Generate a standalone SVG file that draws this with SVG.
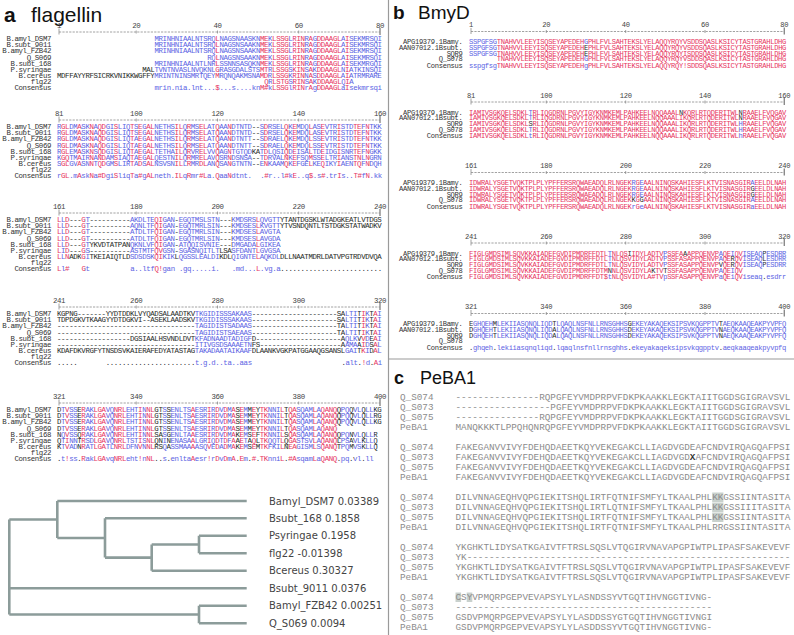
<svg xmlns="http://www.w3.org/2000/svg" width="794" height="635" viewBox="0 0 794 635">
<style>
.sa{font-family:"Liberation Mono","DejaVu Sans Mono",monospace;font-size:7.4px;letter-spacing:-0.38px}
.sb{font-family:"Liberation Mono","DejaVu Sans Mono",monospace;font-size:7.1px;letter-spacing:-0.294px}
.sc{font-family:"Liberation Mono","DejaVu Sans Mono",monospace;font-size:9.3px;fill:#8c8c8c}
.lab{fill:#333;text-anchor:end}
.num{fill:#444;text-anchor:middle}
.k{fill:#2a2a2a}
.cx{fill:#333;font-weight:bold}
.ttl{font-family:"Liberation Sans",Arial,sans-serif;fill:#111}
.rl{stroke:#8a8a8a;stroke-width:0.8;fill:none}
.rd{stroke-dasharray:2.2 1.2}
.tk{stroke:#8a8a8a;stroke-width:1.4}
.tree{stroke:#8c9c9a;stroke-width:2.6;fill:none}
.tl{font-family:"DejaVu Sans",sans-serif;font-size:10px;fill:#444}
.hl{fill:#c9d1cd}
.frame{stroke:#9a9a9a;stroke-width:1.2}
.R{stop-color:#e4335e}.B{stop-color:#5b5ee0}.K{stop-color:#2a2a2a}
</style>
<defs>
<linearGradient id="ga1" gradientUnits="userSpaceOnUse" x1="57" y1="0" x2="382" y2="0">
<stop offset="0" class="K"/><stop offset=".3" class="K"/><stop offset=".3" class="B"/><stop offset=".4875" class="B"/><stop offset=".4875" class="R"/><stop offset=".5" class="R"/><stop offset=".5" class="B"/><stop offset=".625" class="B"/><stop offset=".625" class="R"/><stop offset=".65" class="R"/><stop offset=".65" class="B"/><stop offset=".6625" class="B"/><stop offset=".6625" class="R"/><stop offset=".7125" class="R"/><stop offset=".7125" class="B"/><stop offset=".725" class="B"/><stop offset=".725" class="R"/><stop offset=".7625" class="R"/><stop offset=".7625" class="B"/><stop offset=".775" class="B"/><stop offset=".775" class="R"/><stop offset=".7875" class="R"/><stop offset=".7875" class="B"/><stop offset=".8" class="B"/><stop offset=".8" class="R"/><stop offset=".875" class="R"/><stop offset=".875" class="B"/><stop offset=".8875" class="B"/><stop offset=".8875" class="R"/><stop offset=".9" class="R"/><stop offset=".9" class="B"/><stop offset="1" class="B"/>
</linearGradient>
<linearGradient id="ga2" gradientUnits="userSpaceOnUse" x1="57" y1="0" x2="382" y2="0">
<stop offset="0" class="B"/><stop offset=".0125" class="B"/><stop offset=".0125" class="R"/><stop offset=".0375" class="R"/><stop offset=".0375" class="B"/><stop offset=".0625" class="B"/><stop offset=".0625" class="R"/><stop offset=".075" class="R"/><stop offset=".075" class="B"/><stop offset=".1" class="B"/><stop offset=".1" class="R"/><stop offset=".1125" class="R"/><stop offset=".1125" class="B"/><stop offset=".125" class="B"/><stop offset=".125" class="R"/><stop offset=".15" class="R"/><stop offset=".15" class="B"/><stop offset=".175" class="B"/><stop offset=".175" class="R"/><stop offset=".1875" class="R"/><stop offset=".1875" class="B"/><stop offset=".225" class="B"/><stop offset=".225" class="R"/><stop offset=".2375" class="R"/><stop offset=".2375" class="B"/><stop offset=".25" class="B"/><stop offset=".25" class="R"/><stop offset=".2625" class="R"/><stop offset=".2625" class="B"/><stop offset=".275" class="B"/><stop offset=".275" class="R"/><stop offset=".3" class="R"/><stop offset=".3" class="B"/><stop offset=".3625" class="B"/><stop offset=".3625" class="R"/><stop offset=".3875" class="R"/><stop offset=".3875" class="B"/><stop offset=".4" class="B"/><stop offset=".4" class="R"/><stop offset=".4125" class="R"/><stop offset=".4125" class="B"/><stop offset=".4375" class="B"/><stop offset=".4375" class="R"/><stop offset=".4625" class="R"/><stop offset=".4625" class="B"/><stop offset=".4875" class="B"/><stop offset=".4875" class="R"/><stop offset=".5" class="R"/><stop offset=".5" class="B"/><stop offset=".525" class="B"/><stop offset=".525" class="R"/><stop offset=".5375" class="R"/><stop offset=".5375" class="B"/><stop offset=".6" class="B"/><stop offset=".6" class="K"/><stop offset=".625" class="K"/><stop offset=".625" class="B"/><stop offset=".6375" class="B"/><stop offset=".6375" class="R"/><stop offset=".65" class="R"/><stop offset=".65" class="B"/><stop offset=".7" class="B"/><stop offset=".7" class="R"/><stop offset=".7125" class="R"/><stop offset=".7125" class="B"/><stop offset=".725" class="B"/><stop offset=".725" class="R"/><stop offset=".7375" class="R"/><stop offset=".7375" class="B"/><stop offset=".775" class="B"/><stop offset=".775" class="R"/><stop offset=".7875" class="R"/><stop offset=".7875" class="B"/><stop offset=".8125" class="B"/><stop offset=".8125" class="R"/><stop offset=".825" class="R"/><stop offset=".825" class="B"/><stop offset=".8625" class="B"/><stop offset=".8625" class="R"/><stop offset=".875" class="R"/><stop offset=".875" class="B"/><stop offset=".9125" class="B"/><stop offset=".9125" class="R"/><stop offset=".9375" class="R"/><stop offset=".9375" class="B"/><stop offset=".95" class="B"/><stop offset=".95" class="R"/><stop offset=".9625" class="R"/><stop offset=".9625" class="B"/><stop offset="1" class="B"/>
</linearGradient>
<linearGradient id="ga3" gradientUnits="userSpaceOnUse" x1="57" y1="0" x2="382" y2="0">
<stop offset="0" class="R"/><stop offset=".0125" class="R"/><stop offset=".0125" class="B"/><stop offset=".025" class="B"/><stop offset=".025" class="R"/><stop offset=".0375" class="R"/><stop offset=".0375" class="K"/><stop offset=".075" class="K"/><stop offset=".075" class="R"/><stop offset=".0875" class="R"/><stop offset=".0875" class="B"/><stop offset=".1" class="B"/><stop offset=".1" class="K"/><stop offset=".225" class="K"/><stop offset=".225" class="B"/><stop offset=".3" class="B"/><stop offset=".3" class="R"/><stop offset=".325" class="R"/><stop offset=".325" class="B"/><stop offset=".3625" class="B"/><stop offset=".3625" class="K"/><stop offset=".375" class="K"/><stop offset=".375" class="B"/><stop offset=".5" class="B"/><stop offset=".5" class="K"/><stop offset=".5375" class="K"/><stop offset=".5375" class="B"/><stop offset=".6125" class="B"/><stop offset=".6125" class="R"/><stop offset=".625" class="R"/><stop offset=".625" class="B"/><stop offset=".6875" class="B"/><stop offset=".6875" class="K"/><stop offset="1" class="K"/>
</linearGradient>
<linearGradient id="ga4" gradientUnits="userSpaceOnUse" x1="57" y1="0" x2="382" y2="0">
<stop offset="0" class="K"/><stop offset=".425" class="K"/><stop offset=".425" class="B"/><stop offset=".6" class="B"/><stop offset=".6" class="K"/><stop offset=".8875" class="K"/><stop offset=".8875" class="B"/><stop offset=".925" class="B"/><stop offset=".925" class="K"/><stop offset=".9375" class="K"/><stop offset=".9375" class="R"/><stop offset=".95" class="R"/><stop offset=".95" class="B"/><stop offset=".9625" class="B"/><stop offset=".9625" class="K"/><stop offset=".975" class="K"/><stop offset=".975" class="R"/><stop offset=".9875" class="R"/><stop offset=".9875" class="B"/><stop offset="1" class="B"/>
</linearGradient>
<linearGradient id="ga5" gradientUnits="userSpaceOnUse" x1="57" y1="0" x2="382" y2="0">
<stop offset="0" class="K"/><stop offset=".0125" class="K"/><stop offset=".0125" class="B"/><stop offset=".025" class="B"/><stop offset=".025" class="R"/><stop offset=".0375" class="R"/><stop offset=".0375" class="B"/><stop offset=".0625" class="B"/><stop offset=".0625" class="K"/><stop offset=".075" class="K"/><stop offset=".075" class="R"/><stop offset=".0875" class="R"/><stop offset=".0875" class="B"/><stop offset=".1125" class="B"/><stop offset=".1125" class="R"/><stop offset=".15" class="R"/><stop offset=".15" class="B"/><stop offset=".175" class="B"/><stop offset=".175" class="R"/><stop offset=".2125" class="R"/><stop offset=".2125" class="B"/><stop offset=".25" class="B"/><stop offset=".25" class="R"/><stop offset=".2625" class="R"/><stop offset=".2625" class="B"/><stop offset=".275" class="B"/><stop offset=".275" class="R"/><stop offset=".3" class="R"/><stop offset=".3" class="K"/><stop offset=".325" class="K"/><stop offset=".325" class="B"/><stop offset=".3375" class="B"/><stop offset=".3375" class="K"/><stop offset=".35" class="K"/><stop offset=".35" class="B"/><stop offset=".4125" class="B"/><stop offset=".4125" class="R"/><stop offset=".425" class="R"/><stop offset=".425" class="B"/><stop offset=".4625" class="B"/><stop offset=".4625" class="R"/><stop offset=".475" class="R"/><stop offset=".475" class="B"/><stop offset=".4875" class="B"/><stop offset=".4875" class="R"/><stop offset=".5" class="R"/><stop offset=".5" class="B"/><stop offset=".5125" class="B"/><stop offset=".5125" class="R"/><stop offset=".525" class="R"/><stop offset=".525" class="B"/><stop offset=".5375" class="B"/><stop offset=".5375" class="R"/><stop offset=".55" class="R"/><stop offset=".55" class="K"/><stop offset=".5625" class="K"/><stop offset=".5625" class="R"/><stop offset=".575" class="R"/><stop offset=".575" class="B"/><stop offset=".5875" class="B"/><stop offset=".5875" class="K"/><stop offset=".6" class="K"/><stop offset=".6" class="R"/><stop offset=".6125" class="R"/><stop offset=".6125" class="K"/><stop offset=".625" class="K"/><stop offset=".625" class="R"/><stop offset=".65" class="R"/><stop offset=".65" class="B"/><stop offset=".6875" class="B"/><stop offset=".6875" class="R"/><stop offset=".7" class="R"/><stop offset=".7" class="K"/><stop offset=".7125" class="K"/><stop offset=".7125" class="R"/><stop offset=".7375" class="R"/><stop offset=".7375" class="B"/><stop offset=".7875" class="B"/><stop offset=".7875" class="R"/><stop offset=".8" class="R"/><stop offset=".8" class="B"/><stop offset=".8125" class="B"/><stop offset=".8125" class="R"/><stop offset=".8625" class="R"/><stop offset=".8625" class="K"/><stop offset=".875" class="K"/><stop offset=".875" class="B"/><stop offset=".9" class="B"/><stop offset=".9" class="K"/><stop offset=".9125" class="K"/><stop offset=".9125" class="B"/><stop offset=".9375" class="B"/><stop offset=".9375" class="K"/><stop offset=".95" class="K"/><stop offset=".95" class="B"/><stop offset=".975" class="B"/><stop offset=".975" class="K"/><stop offset="1" class="K"/>
</linearGradient>
<linearGradient id="gb1" gradientUnits="userSpaceOnUse" x1="469" y1="0" x2="786.3" y2="0">
<stop offset="0" class="B"/><stop offset=".0875" class="B"/><stop offset=".0875" class="R"/><stop offset=".3625" class="R"/><stop offset=".3625" class="B"/><stop offset=".375" class="B"/><stop offset=".375" class="R"/><stop offset="1" class="R"/>
</linearGradient>
<linearGradient id="gb2" gradientUnits="userSpaceOnUse" x1="469" y1="0" x2="786.3" y2="0">
<stop offset="0" class="R"/><stop offset=".1875" class="R"/><stop offset=".1875" class="B"/><stop offset=".2" class="B"/><stop offset=".2" class="R"/><stop offset=".85" class="R"/><stop offset=".85" class="B"/><stop offset=".8625" class="B"/><stop offset=".8625" class="R"/><stop offset="1" class="R"/>
</linearGradient>
<linearGradient id="gb3" gradientUnits="userSpaceOnUse" x1="469" y1="0" x2="786.3" y2="0">
<stop offset="0" class="R"/><stop offset=".5125" class="R"/><stop offset=".5125" class="B"/><stop offset=".525" class="B"/><stop offset=".525" class="R"/><stop offset=".5375" class="R"/><stop offset=".5375" class="B"/><stop offset=".55" class="B"/><stop offset=".55" class="R"/><stop offset=".8875" class="R"/><stop offset=".8875" class="B"/><stop offset=".9" class="B"/><stop offset=".9" class="R"/><stop offset="1" class="R"/>
</linearGradient>
<linearGradient id="gb4" gradientUnits="userSpaceOnUse" x1="469" y1="0" x2="786.3" y2="0">
<stop offset="0" class="R"/><stop offset=".4375" class="R"/><stop offset=".4375" class="B"/><stop offset=".45" class="B"/><stop offset=".45" class="R"/><stop offset=".6125" class="R"/><stop offset=".6125" class="B"/><stop offset=".625" class="B"/><stop offset=".625" class="R"/><stop offset=".7875" class="R"/><stop offset=".7875" class="B"/><stop offset=".8" class="B"/><stop offset=".8" class="R"/><stop offset=".825" class="R"/><stop offset=".825" class="B"/><stop offset=".8375" class="B"/><stop offset=".8375" class="R"/><stop offset=".8625" class="R"/><stop offset=".8625" class="B"/><stop offset=".925" class="B"/><stop offset=".925" class="K"/><stop offset=".9375" class="K"/><stop offset=".9375" class="B"/><stop offset="1" class="B"/>
</linearGradient>
<linearGradient id="gb5" gradientUnits="userSpaceOnUse" x1="469" y1="0" x2="786.3" y2="0">
<stop offset="0" class="K"/><stop offset=".0125" class="K"/><stop offset=".0125" class="B"/><stop offset=".075" class="B"/><stop offset=".075" class="K"/><stop offset=".0875" class="K"/><stop offset=".0875" class="B"/><stop offset=".2625" class="B"/><stop offset=".2625" class="K"/><stop offset=".275" class="K"/><stop offset=".275" class="B"/><stop offset=".5" class="B"/><stop offset=".5" class="K"/><stop offset=".5125" class="K"/><stop offset=".5125" class="B"/><stop offset=".7875" class="B"/><stop offset=".7875" class="K"/><stop offset=".8" class="K"/><stop offset=".8" class="B"/><stop offset="1" class="B"/>
</linearGradient>
</defs>
<rect width="794" height="635" fill="#fff"/>
<g id="frame">
<line class="frame" x1="388.5" y1="0" x2="388.5" y2="635"/>
<line class="frame" x1="388.5" y1="359" x2="794" y2="359"/>
</g>
<g id="titles">
<text class="ttl" x="4" y="22" font-size="21" font-weight="bold">a</text>
<text class="ttl" x="31" y="22" font-size="21">flagellin</text>
<text class="ttl" x="393" y="19" font-size="19" font-weight="bold">b</text>
<text class="ttl" x="418" y="19" font-size="19">BmyD</text>
<text class="ttl" x="394" y="384" font-size="18" font-weight="bold">c</text>
<text class="ttl" x="420" y="384" font-size="18">PeBA1</text>
</g>
<g id="rulers-a">
<g class="sa num"><text x="59" y="27.5">1</text><text x="136.2" y="27.5">20</text><text x="217.5" y="27.5">40</text><text x="298.7" y="27.5">60</text><text x="380" y="27.5">80</text>
<text x="59" y="115.5">81</text><text x="136.2" y="115.5">100</text><text x="217.5" y="115.5">120</text><text x="298.7" y="115.5">140</text><text x="380" y="115.5">160</text>
<text x="59" y="208.5">161</text><text x="136.2" y="208.5">180</text><text x="217.5" y="208.5">200</text><text x="298.7" y="208.5">220</text><text x="380" y="208.5">240</text>
<text x="59" y="302.5">241</text><text x="136.2" y="302.5">260</text><text x="217.5" y="302.5">280</text><text x="298.7" y="302.5">300</text><text x="380" y="302.5">320</text>
<text x="59" y="398.5">321</text><text x="136.2" y="398.5">340</text><text x="217.5" y="398.5">360</text><text x="298.7" y="398.5">380</text><text x="380" y="398.5">400</text></g>
<path class="rl rd" d="M59,32H380M59,120H380M59,213H380M59,307H380M59,403H380"/>
<path class="rl" d="M59,28.5V34.5M136.2,30.5V33.5M217.5,30.5V33.5M298.7,30.5V33.5M59,116.5V122.5M136.2,118.5V121.5M217.5,118.5V121.5M298.7,118.5V121.5M59,209.5V215.5M136.2,211.5V214.5M217.5,211.5V214.5M298.7,211.5V214.5M59,303.5V309.5M136.2,305.5V308.5M217.5,305.5V308.5M298.7,305.5V308.5M59,399.5V405.5M136.2,401.5V404.5M217.5,401.5V404.5M298.7,401.5V404.5"/>
<path class="tk" d="M380,28V35M380,116V123M380,209V216M380,303V310M380,399V406"/>
</g>
<g id="labels-a" class="sa lab">
<text x="51" y="41">B.amyl_DSM7</text><text x="51" y="47.2">B.subt_9011</text><text x="51" y="53.4">B.amyl_FZB42</text><text x="51" y="59.6">Q_S069</text><text x="51" y="65.8">B.subt_168</text><text x="51" y="72">P.syringae</text><text x="51" y="78.2">B.cereus</text><text x="51" y="84.4">flg22</text><text x="51" y="90.4">Consensus</text>
<text x="51" y="129">B.amyl_DSM7</text><text x="51" y="135.2">B.subt_9011</text><text x="51" y="141.4">B.amyl_FZB42</text><text x="51" y="147.6">Q_S069</text><text x="51" y="153.8">B.subt_168</text><text x="51" y="160">P.syringae</text><text x="51" y="166.2">B.cereus</text><text x="51" y="172.4">flg22</text><text x="51" y="178.4">Consensus</text>
<text x="51" y="222">B.amyl_DSM7</text><text x="51" y="228.2">B.subt_9011</text><text x="51" y="234.4">B.amyl_FZB42</text><text x="51" y="240.6">Q_S069</text><text x="51" y="246.8">B.subt_168</text><text x="51" y="253">P.syringae</text><text x="51" y="259.2">B.cereus</text><text x="51" y="265.4">flg22</text><text x="51" y="271.4">Consensus</text>
<text x="51" y="316">B.amyl_DSM7</text><text x="51" y="322.2">B.subt_9011</text><text x="51" y="328.4">B.amyl_FZB42</text><text x="51" y="334.6">Q_S069</text><text x="51" y="340.8">B.subt_168</text><text x="51" y="347">P.syringae</text><text x="51" y="353.2">B.cereus</text><text x="51" y="359.4">flg22</text><text x="51" y="365.4">Consensus</text>
<text x="51" y="412">B.amyl_DSM7</text><text x="51" y="418.2">B.subt_9011</text><text x="51" y="424.4">B.amyl_FZB42</text><text x="51" y="430.6">Q_S069</text><text x="51" y="436.8">B.subt_168</text><text x="51" y="443">P.syringae</text><text x="51" y="449.2">B.cereus</text><text x="51" y="455.4">flg22</text><text x="51" y="461.4">Consensus</text>
</g>
<g id="seq-a1" class="sa" fill="url(#ga1)">
<text x="154.5" y="41">MRINHNIAALNTSRQLNAGSNAASKNMEKLSSGLRINRAGDDAAGLAISEKMRSQI</text>
<text x="154.5" y="47.2">MRINHNIAALNTSRQLNAGSNSAAKNMEKLSSGLRINRAGDDAAGLAISEKMRSQI</text>
<text x="154.5" y="53.4">MRINHNIAALNTSRQLNAGSNSAAKNMEKLSSGLRINRAGDDAAGLAISEKMRSQI</text>
<text x="207.31" y="59.6">RQLNAGSNSAAKNMEKLSSGLRINRAGDDAAGLAISEKMRSQI</text>
<text x="154.5" y="65.8">MRINHNIAALNTLNRLSSNNSASQKNMEKLSSGLRINRAGDDAAGLAISEKMRGQI</text>
<text x="142.31" y="72">MALTVNTNVASLNVQKNLGRASGDALSTSMTRLSSGSKINSAKDDAAGLNIATKINSQI</text>
<text x="57" y="78.2">MDFFAYYRFSICRKVNIKKWGFFYMRINTNINSMRTQEYMRQNQAKMSNAMDRLSSGKRINNASDDAAGLAIATRMRARE</text>
<text x="264.19" y="84.4">QRLSTGSRINSAKDDAAGLQIA</text>
<text x="154.5" y="90.4">mrin.nia.lnt...$...s....knM#kLSSGlRINrAgDDAAGLaIsekmrsqi</text>
</g>
<g id="seq-a2" class="sa" fill="url(#ga2)">
<text x="57" y="129">RGLDMASKNAQDGISLIQTSEGALNETHSILQRMSELATQAANDTNTD--SDRSELQKEMDQLASEVTRISTDTEFNTKK</text>
<text x="57" y="135.2">RGLDMASKNAQDGISLIQTSEGALNETHSILQRMSELATQAANDTNTD--SDRSELQKEMDQLASEVTRISTDTEFNTKK</text>
<text x="57" y="141.4">RGLDMASKNAQDGISLIQTAEGALNETHSILQRMSELATQAANDTNTT--SDRAELQKEMDQLSSEVTRISTDTEFNTKK</text>
<text x="57" y="147.6">RGLDMASKNAQDGISLIQTAEGALNETHSILQRMSELATQAANDTNTT--SDRAELQKEMDQLSSEVTRISTDTEFNTKK</text>
<text x="57" y="153.8">RGLEMASKNSQDGISLIQTAEGALTETHAILQRVRELVVQAGNTGTQDKATDLQSIQDEISALTDEIDGISNRTEFNGKK</text>
<text x="57" y="160">KGQTMAIRNANDAMSIAQTAEGALQESTNILQRMRELAVQSRNDSNSA--TDRVALNKEFSQMSSELTRIANSTNLNGRN</text>
<text x="57" y="166.2">SGLGVASNNTQDGMSLIRTADSALNSVSNILLRMRDLANQSANGTNTN--ENKAAMQKEFGELKEQIKYIAENTQFNDQH</text>
<text y="178.4"><tspan x="57">rGL.mAskNa#DgiSliqTa#gALneth.ILqRmr#La.QaaNdtnt.</tspan><tspan x="260.125">.#r..l#kE..q$.s#.trIs..T#fN.kk</tspan></text>
</g>
<g id="seq-a3" class="sa" fill="url(#ga3)">
<text x="57" y="222">LLD---GT----------AKDLTEQIGAN-EGQTMSLSTN---KMDSRSLQVGTTYTANTDGSKLWTADGKEATLVTDGS</text>
<text x="57" y="228.2">LLD---GT----------AQNLTFQIGAN-EGQTMRLSIN---KMDSESLKVGTTYTVSNDQNTLTSTDGKSTATWADKV</text>
<text x="57" y="234.4">LLD---GT----------ATDLTFQIGAN-EGQTMRLSIN---KMDSESLAVGTA</text>
<text x="57" y="240.6">LLD---GT----------ATDLTFQIGAN-EGQTMRLSIN---KMDSESLAVGDA</text>
<text x="57" y="246.8">LLD---GTYKVDTATPANQKNLVFQIGAN-ATQQISVNIE---DMGADALGIKEA</text>
<text x="57" y="253">LID---GS----------ASTMTFQVGSN-SGASNQITLTLSASFDANTLGVGSA</text>
<text x="57" y="259.2">LLNADKGITKEIAIQTLDSDSDSKQIKIKLQGSSLEALDIKDLQIGNTELAQKDLDLLNAATMDRLDATVPGTRDVDVQA</text>
<text y="271.4"><tspan x="57">Ll#</tspan><tspan x="81.375">Gt</tspan><tspan x="130.125">a..ltfQ!gan</tspan><tspan x="178.875">.gq.....i.</tspan><tspan x="231.69">.md...L.vg.a.........................</tspan></text>
</g>
<g id="seq-a4" class="sa" fill="url(#ga4)">
<text x="57" y="316">KGPNG-------YYDTDDKLVYQADSALAADTKVTKGIDISSSAKAAS---------------------SALTITIKTAI</text>
<text x="57" y="322.2">TDPDGKVTKAAGYYDTDGKVI--ASEKLAADSKVTKGIDISSSAKAAS---------------------SALTITIKTAI</text>
<text x="57" y="328.4">----------------------------------TAGIDISTSADAAS---------------------TALTITIKTAI</text>
<text x="57" y="334.6">----------------------------------TAGIDISTSAEAAS---------------------TALTITIKTAI</text>
<text x="57" y="340.8">------------------DGSIAALHSVNDLDVTKFADNAADTADIGFD---------------------AQLKVVDEAI</text>
<text x="57" y="347">----------------------------------ITIVGSDSAAAETNFS--------------------AAMAAIDSAL</text>
<text x="57" y="353.2">KDAFDKVRGFYTNSDSVKAIERAFEDYATASTAGTAKADAATAIKAAFDLAANKVGKPATGGAAQGSANSLGAITKIDAL</text>
<text y="365.4"><tspan x="57">.....</tspan><tspan x="105.75">......................t.g.d..ta..aas</tspan><tspan x="341.375">.alt.!d.Ai</tspan></text>
</g>
<g id="seq-a5" class="sa" fill="url(#ga5)">
<text x="57" y="412">DTVSSERAKLGAVQNRLEHTINNLGTSSENLTSAESRIRDVDMASEMMEYTKNNILTQASQAMLAQANQQPQQVLQLLKG</text>
<text x="57" y="418.2">DTVSSERAKLGAVQNRLEHTINNLGTSSENLTSAESRIRDVDMASEMMEYTKNNILTQASQAMLAQANQQPQQVLQLLRG</text>
<text x="57" y="424.4">DTVSSERAKLGAVQNRLEHTINNLGTSSENLTSAESRIRDVDMASEMMEYTKNNILTQASQAMLAQANQQPQQVLQLLKG</text>
<text x="57" y="430.6">DTVSSERAKLGAVQNRLEHTINNLGTSSENLTSAESRIRDVDMASEMMEYTKNNILTQASQAMLAQANQ</text>
<text x="57" y="436.8">NQVSSQRAKLGAVQNRLEHTINNLSASGENLTAAESRIRDVDMAKEMSEFTKNNILSQASQAMLAQANQQPQNVLQLLR</text>
<text x="57" y="443">QTINNTRSDLGAVQNRLTSTISNLQNINENASAALGRIQDTDFAAETAQLTKQQTLQGASTSVLAQANQLPSAVLKLLQ</text>
<text x="57" y="449.2">KTVADNRATLGATLNRLDFNVNNLRSQASSMAAAASQVEDADMAKEMSEMTKFKILNEAGISMLSQANQTPQMVSKLLQ</text>
<text x="57" y="461.4">.t!ss.RakLGAvqNRLeht!nNL..s.enltaAesr!rDvDmA.Em.#.TKnniL.#AsqamLaQANQ.pq.vl.ll</text>
</g>
<g id="connectors">
<path class="tree" d="M57.3,501H246.7M105,518.3H246.7M199,535.7H246.7M199,553.3H246.7M151.7,570.7H246.7M9.3,588.3H246.7M199,605.7H246.7M199,623.3H246.7M199,535.7V553.3M151.7,544.5H199M151.7,544.5V570.7M105,557.6H151.7M105,518.3V557.6M57.3,538H105M57.3,501V538M9.3,519.5H57.3M199,605.7V623.3M9.3,614.5H199M9.3,519.5V614.5"/>
</g>
<g id="tree-leaves" class="tl">
<g id="node-Bamyl_DSM7"><text x="269" y="504.6">Bamyl_DSM7 0.03389</text></g>
<g id="node-Bsubt_168"><text x="269" y="521.9">Bsubt_168 0.1858</text></g>
<g id="node-Psyringae"><text x="269" y="539.3">Psyringae 0.1958</text></g>
<g id="node-flg22"><text x="269" y="556.9">flg22 -0.01398</text></g>
<g id="node-Bcereus"><text x="269" y="574.3">Bcereus 0.30327</text></g>
<g id="node-Bsubt_9011"><text x="269" y="591.9">Bsubt_9011 0.0376</text></g>
<g id="node-Bamyl_FZB42"><text x="269" y="609.3">Bamyl_FZB42 0.00251</text></g>
<g id="node-Q_S069"><text x="269" y="626.9">Q_S069 0.0094</text></g>
</g>
<g id="rulers-b">
<g class="sb num"><text x="471" y="27.3">1</text><text x="546.3" y="27.3">20</text><text x="625.7" y="27.3">40</text><text x="705" y="27.3">60</text><text x="784.3" y="27.3">80</text>
<text x="471" y="97.8">81</text><text x="546.3" y="97.8">100</text><text x="625.7" y="97.8">120</text><text x="705" y="97.8">140</text><text x="784.3" y="97.8">160</text>
<text x="471" y="168.3">161</text><text x="546.3" y="168.3">180</text><text x="625.7" y="168.3">200</text><text x="705" y="168.3">220</text><text x="784.3" y="168.3">240</text>
<text x="471" y="238.8">241</text><text x="546.3" y="238.8">260</text><text x="625.7" y="238.8">280</text><text x="705" y="238.8">300</text><text x="784.3" y="238.8">320</text>
<text x="471" y="309.3">321</text><text x="546.3" y="309.3">340</text><text x="625.7" y="309.3">360</text><text x="705" y="309.3">380</text><text x="784.3" y="309.3">400</text></g>
<path class="rl rd" d="M471,31.5H784.3M471,102H784.3M471,172.5H784.3M471,243H784.3M471,313.5H784.3"/>
<path class="rl" d="M471,28V34M546.3,30V33M625.7,30V33M705,30V33M471,98.5V104.5M546.3,100.5V103.5M625.7,100.5V103.5M705,100.5V103.5M471,169V175M546.3,171V174M625.7,171V174M705,171V174M471,239.5V245.5M546.3,241.5V244.5M625.7,241.5V244.5M705,241.5V244.5M471,310V316M546.3,312V315M625.7,312V315M705,312V315"/>
<path class="tk" d="M784.3,27.5V34.5M784.3,98V105M784.3,168.5V175.5M784.3,239V246M784.3,309.5V316.5"/>
</g>
<g id="labels-b" class="sb lab">
<text x="462.5" y="44">APG19379.1Bamy.</text><text x="462.5" y="49.8">AAN07012.1Bsubt.</text><text x="462.5" y="55.6">SQR9</text><text x="462.5" y="61.4">Q_S078</text><text x="462.5" y="67.5">Consensus</text>
<text x="462.5" y="114.5">APG19379.1Bamy.</text><text x="462.5" y="120.3">AAN07012.1Bsubt.</text><text x="462.5" y="126.1">SQR9</text><text x="462.5" y="131.9">Q_S078</text><text x="462.5" y="138">Consensus</text>
<text x="462.5" y="185">APG19379.1Bamy.</text><text x="462.5" y="190.8">AAN07012.1Bsubt.</text><text x="462.5" y="196.6">SQR9</text><text x="462.5" y="202.4">Q_S078</text><text x="462.5" y="208.5">Consensus</text>
<text x="462.5" y="255.5">APG19379.1Bamy.</text><text x="462.5" y="261.3">AAN07012.1Bsubt.</text><text x="462.5" y="267.1">SQR9</text><text x="462.5" y="272.9">Q_S078</text><text x="462.5" y="279">Consensus</text>
<text x="462.5" y="326">APG19379.1Bamy.</text><text x="462.5" y="331.8">AAN07012.1Bsubt.</text><text x="462.5" y="337.6">SQR9</text><text x="462.5" y="343.4">Q_S078</text><text x="462.5" y="349.5">Consensus</text>
</g>
<g id="seq-b1" class="sb" fill="url(#gb1)">
<text x="469" y="44">SSPGFSGTNAHVVLEEYISQSEYAPEDEHGPHLFVLSAHTEKSLYELAQQYRQYVSDDSQASLKSICYTASTGRAHLDHG</text>
<text x="469" y="49.8">SSPGFSGTNAHVVLEEYISQSEYAPEDEH<tspan class="k">E</tspan>PHLFVLSAHTEKSLYELAQQYRQYVSDDSQASLKSICYTASTGRAHLDHG</text>
<text x="469" y="55.6">SSPGFSGTNAHVVLEEYISQSEYAPEDEH<tspan class="k">E</tspan>PHLFVLSAHTEKSLYELAQQYRQYISDDSQASLKSICYTASTGRAHLDHG</text>
<text x="496.76" y="61.4">TNAHVVLEEYISQSEYAPEDEHGPHLFVLSAHTEKSLYELAQQYRQYVSDDSQASLKSICYTASTGRAHLDHG</text>
<text x="469" y="67.5">sspgfsgTNAHVVLEEYISQSEYAPEDEHgPHLFVLSAHTEKSLYELAQQYRQY!SDDSQASLKSICYTASTGRAHLDHG</text>
</g>
<g id="seq-b2" class="sb" fill="url(#gb2)">
<text x="469" y="114.5">IAMIVSGKQELSDKLTRLIQGDRNLPGVYIGYKNMKEMLPAHKEELNQQAAAL<tspan class="k">N</tspan>KQRLRTQDERITWL<tspan class="k">N</tspan>RAAELFVQGAV</text>
<text x="469" y="120.3">IAMIVSGKQELSDKLTRLIQGDRNLPGVYIGYKNMKEMLPAHKEELNQQAAALIKQRLRTQDERITWL<tspan class="k">N</tspan>RAAELFVQGAV</text>
<text x="469" y="126.1">IAMIVSGKQELSDKL<tspan class="k">S</tspan>RLIQGDRNLPGVYIGYKNMKEMLPAHKEELNQQAAALIKQRLRTQDERITWLHRAAELFVQGAV</text>
<text x="469" y="131.9">IAMIVSGKQELSDKLTRLIQGDRNLPGVYIGYKNMKEMLPAHKEELNQQAAALIKQRLRTQDERITWLHRAAELFVQGAV</text>
<text x="469" y="138">IAMIVSGKQELSDKLtRLIQGDRNLPGVYIGYKNMKEMLPAHKEELNQQAAALIKQRLRTQDERITWLhRAAELFVQGAV</text>
</g>
<g id="seq-b3" class="sb" fill="url(#gb3)">
<text x="469" y="185">IDWRALYSGETVQKTPLPLYPFFERSRQWAEADQLRLNGEKRGEAALNINQSKAHIESFLKTVISNASGIRAEELDLNAH</text>
<text x="469" y="190.8">IDWRALYSGETVQKTPLPLYPFFERSRQWAEADQLRLNGEKRGEAALNINQSKAHIESFLKTVISNASGIR<tspan class="k">G</tspan>EELDLNAH</text>
<text x="469" y="196.6">IDWRALYSGETVQKTPLPLYPFFERSRQWAEADQLRLNGEKRGEAALNINQSKAHIESFLKTVISNASGIR<tspan class="k">G</tspan>EELDLNAH</text>
<text x="469" y="202.4">IDWRALYSGETVQKTPLPLYPFFERSRQWAEADQLRLNGEK<tspan class="k">K</tspan>G<tspan class="k">G</tspan>AALNINQSKAHIESFLKTVISNASGIRAEELDLNAH</text>
<text x="469" y="208.5">IDWRALYSGETVQKTPLPLYPFFERSRQWAEADQLRLNGEKrGeAALNINQSKAHIESFLKTVISNASGIRaEELDLNAH</text>
</g>
<g id="seq-b4" class="sb" fill="url(#gb4)">
<text x="469" y="255.5">FIGLGMDSIMLSQVKKAIADEFGVDIPMDRFFDTLTNLQS<tspan class="k">I</tspan>IDYLADTVPSSFA<tspan class="k">A</tspan>APPQENVPAQEIQVISEAQPESDRR</text>
<text x="469" y="261.3">FIGLGMDSIMLSQVKKAIADEFGVDIPMDRFFDTLTNLQSVIDYLADTVPSSFASAPPQENVPAQE<tspan class="k">R</tspan>QVISEAQ<tspan class="k">L</tspan>ESDRR</text>
<text x="469" y="267.1">FIGLGMDSIMLSQVKKAIADEFGVDIPMDRFFDTLTNLQSVIDYLADTVPSSFASAPPQENVP<tspan class="k">V</tspan>QE<tspan class="k">R</tspan>QVISEAQPESDRR</text>
<text x="469" y="272.9">FIGLGMDSIMLSQVKKAIADEFGVDIPMDRFFDTM<tspan class="k">N</tspan>NLQSVIDYLA<tspan class="k">K</tspan>TV<tspan class="k">T</tspan>SSFASAPPQENVPAQEIQV</text>
<text x="469" y="279">FIGLGMDSIMLSQVKKAIADEFGVDIPMDRFFDT$tNLQSVIDYLA#TVpSSFASAPPQENVPaQEiQViseaq.esdrr</text>
</g>
<g id="seq-b5" class="sb" fill="url(#gb5)">
<text x="469" y="326">EGHQEHMLEKIIASQNQLIQDTLQAQLNSFNLLRNSGHHSGEKEYAKAQEKSIPSVKQGPPTVTAEQKAAQEAKPYVPFQ</text>
<text x="469" y="331.8">DGHQEHTLEKIIASQNQLIQDALQAQLNSFNLLRNSGHHSDEKEYAKAQEKSIPSVKQGPPTVNAEQKAAQEAKPYVPFQ</text>
<text x="469" y="337.6">DGHQEHTLEKIIASQNQLIQDALQAQLNSFNLLRNSGHHSDEKEYAKAQEKSIPSVKQGPPTVNAEQKAAQEAKPYVPFQ</text>
<text x="469" y="349.5">.ghqeh.lekiiasqnqliqd.lqaqlnsfnllrnsghhs.ekeyakaqeksipsvkqgpptv.aeqkaaqeakpyvpfq</text>
</g>
<g id="highlights-c">
<rect class="hl" x="712.2" y="492.5" width="11.2" height="9.5"/>
<rect class="hl" x="712.2" y="502.5" width="11.2" height="9.5"/>
<rect class="hl" x="712.2" y="512.5" width="11.2" height="9.5"/>
<rect class="hl" x="455.5" y="592.5" width="5.6" height="9.5"/>
<rect class="hl" x="466.7" y="592.5" width="5.6" height="9.5"/>
</g>
<g id="alignment-c" class="sc">
<text x="400" y="400">Q_S074</text><text x="455.5" y="400">---------------RQPGFEYVMDPRPVFDKPKAAKKLEGKTAIITGGDSGIGRAVSVL</text>
<text x="400" y="410">Q_S073</text><text x="455.5" y="410">-----------------PGFEYVMDPRPVFDKPKAAKKLEGKTAIITGGDSGIGRAVSVL</text>
<text x="400" y="420">Q_S075</text><text x="455.5" y="420">---------------RQPGFEYVMDPRPVFDKPKAAKKLEGKTAIITGGDSGIGRAVSVL</text>
<text x="400" y="430">PeBA1</text><text x="455.5" y="430">MANQKKKTLPPQHQNRQPGFEYVMDPRPVFDKPKAAKKLEGKTAIITGGDSGIGRAVSVL</text>
<text x="400" y="450">Q_S074</text><text x="455.5" y="450">FAKEGANVVIVYFDEHQDAEETKQYVEKEGAKCLLIAGDVGDEAFCNDVIRQAGQAFPSI</text>
<text x="400" y="460">Q_S073</text><text x="455.5" y="460">FAKEGANVVIVYFDEHQDAEETKQYVEKEGAKCLLIAGDVGD<tspan class="cx">X</tspan>AFCNDVIRQAGQAFPSI</text>
<text x="400" y="470">Q_S075</text><text x="455.5" y="470">FAKEGANVVIVYFDEHQDAEETKQYVEKEGAKCLLIAGDVGDEAFCNDVIRQAGQAFPSI</text>
<text x="400" y="480">PeBA1</text><text x="455.5" y="480">FAKEGANVVIVYFDEHQDAEETKQYVEKEGAKCLLIAGDVGDEAFCNDVIRQAGQAFPSI</text>
<text x="400" y="500">Q_S074</text><text x="455.5" y="500">DILVNNAGEQHVQPGIEKITSHQLIRTFQTNIFSMFYLTKAALPHLKKGSSIINTASITA</text>
<text x="400" y="510">Q_S073</text><text x="455.5" y="510">DILVNNAGEQHVQPGIEKITSHQLIRTLQTNIFSMFYLTKAALPHLKKGSSIIITASITA</text>
<text x="400" y="520">Q_S075</text><text x="455.5" y="520">DILVNNAGEQHVQPGIEKITSHQLIRTFQTNIFSMFYLTKAALPHLKKGSSIINTASITA</text>
<text x="400" y="530">PeBA1</text><text x="455.5" y="530">DILVNNAGEQHVQPGIEKITSHQLIRTFQTNIFSMFYLTKAALPHLRRGSSIINTASITA</text>
<text x="400" y="550">Q_S074</text><text x="455.5" y="550">YKGHKTLIDYSATKGAIVTFTRSLSQSLVTQGIRVNAVAPGPIWTPLIPASFSAKEVEVF</text>
<text x="400" y="560">Q_S073</text><text x="455.5" y="560">YK----------------------------------------------------------</text>
<text x="400" y="570">Q_S075</text><text x="455.5" y="570">YKGHKTLIDYSATKGAIVTFTRSLSQSLVTQGIRVNAVAPGPIWTPLIPASFSAKEVEVF</text>
<text x="400" y="580">PeBA1</text><text x="455.5" y="580">YKGHKTLIDYSATKGAIVTFTRSLSQSLVTQGIRVNAVAPGPIWTPLIPASFSAKEVEVF</text>
<text x="400" y="600">Q_S074</text><text x="455.5" y="600">CSYVPMQRPGEPVEVAPSYLYLASNDSSYVTGQTIHVNGGTIVNG-</text>
<text x="400" y="610">Q_S073</text><text x="455.5" y="610">----------------------------------------------</text>
<text x="400" y="620">Q_S075</text><text x="455.5" y="620">GSDVPMQRPGEPVEVAPSYLYLASDDSSYGTGQTIHVNGGTIVNGI</text>
<text x="400" y="630">PeBA1</text><text x="455.5" y="630">GSDVPMQRPGEPVEVAPSYLYLASDDSSYVTGQTIHVNGGTIVNG-</text>
</g>
</svg>
